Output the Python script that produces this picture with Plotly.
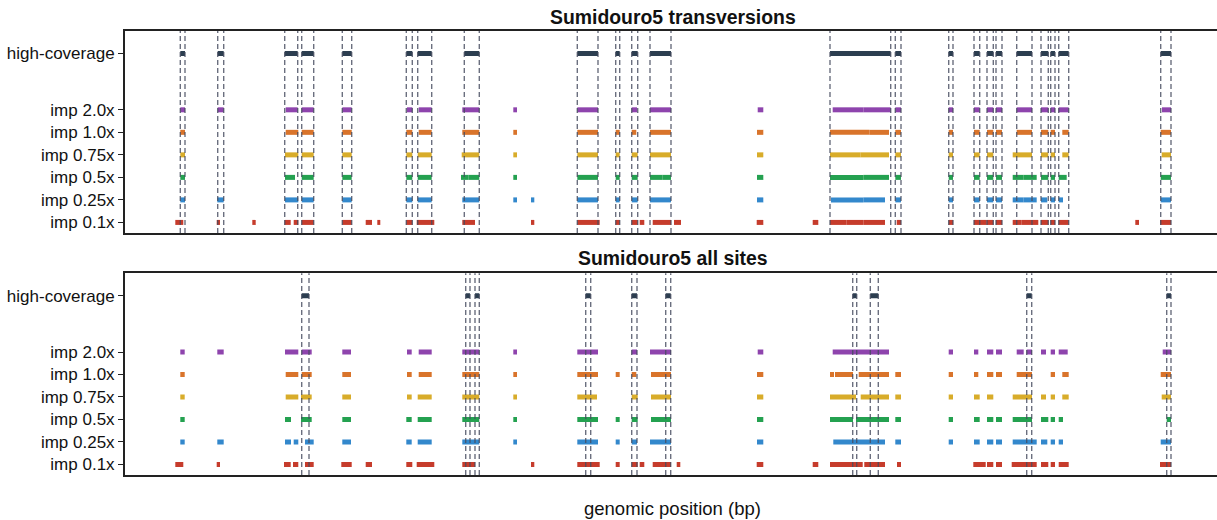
import plotly.graph_objects as go

# Genomic positions (arbitrary 100-kb units along the chromosome), (start, end) per segment
row_labels = ["imp 0.1x", "imp 0.25x", "imp 0.5x", "imp 0.75x", "imp 1.0x", "imp 2.0x", "high-coverage"]
row_pos = [0, 1, 2, 3, 4, 5, 7.5]

# ---------- Panel 1: transversions ----------
tv_hc = [(55.3, 60), (92.7, 98.7), (159.7, 172.7), (176.7, 188.7), (217.3, 226.7), (281.3, 287.3),
         (292.7, 306.7), (339.3, 354.3), (452.3, 473), (490.7, 494.7), (506.7, 512.7), (525, 546),
         (705, 765.7), (770.3, 776), (823.7, 828), (849, 854.7), (862, 868.3), (871, 877),
         (891.7, 907), (916, 923.3), (925.7, 930), (933.7, 943.7), (1035.7, 1046)]
tv_imp20 = [(55.3, 60), (92.7, 98.7), (160.7, 172.7), (176.7, 188.7), (217.3, 226.7), (282, 287.3),
            (293.7, 306.7), (337.3, 354.3), (388.3, 392), (452.3, 473), (506.7, 512), (525, 546),
            (632.7, 638.3), (707.7, 738.3), (738.3, 765.7), (770.3, 776), (823.7, 828), (849, 854.7),
            (862, 868.3), (871, 877), (891.7, 907), (916, 923.3), (925.7, 930), (933.7, 943.7), (1037, 1046)]
tv_imp10 = [(55.3, 60), (160.7, 173.3), (176.7, 188.7), (217.3, 226.7), (281.3, 287.3), (293.7, 306.7),
            (337.3, 354.3), (388.3, 392), (452.3, 473), (490.7, 494.7), (506.7, 511.3), (525, 546),
            (632, 638.3), (705, 744.3), (744.3, 764), (770.3, 776), (823.7, 828), (849, 854.7),
            (862, 868.3), (871, 877), (891.7, 907), (916, 923.3), (925.7, 930), (937.3, 943.7), (1035.7, 1046)]
tv_imp075 = [(55.3, 60), (160, 173.3), (176.7, 188.7), (217.3, 226.7), (281.3, 287.3), (292.7, 306.7),
             (336.7, 354.3), (388.3, 392), (452.3, 473), (490.7, 494.7), (506.7, 512.7), (525, 546),
             (632, 638.3), (705, 735.7), (735.7, 764), (770.3, 776), (823.7, 828), (849, 854.7),
             (862, 868.3), (887.7, 907), (916, 923.3), (925.7, 930), (937.3, 943.7), (1036.7, 1046)]
tv_imp05 = [(55.3, 60), (160, 170), (176.7, 188.7), (217.3, 226.7), (281.3, 287.3), (292.7, 306.7),
            (336, 343.3), (343.3, 354.3), (388.3, 392), (452.3, 473), (490.7, 494.7), (506.7, 512.7),
            (525, 537.7), (537.7, 546), (632, 638.3), (705, 738.3), (738.3, 764), (770.3, 776),
            (823.7, 828), (849, 854.7), (862, 868.3), (871, 877), (887.7, 898.3), (898.3, 911.7),
            (916, 923.3), (925.7, 930), (933.7, 941.7), (1035.7, 1046)]
tv_imp025 = [(55.3, 60), (92.3, 98.7), (160, 173.3), (176.7, 188.7), (217.3, 226.7), (281.3, 287.3),
             (292.7, 306.7), (337.3, 354.3), (388.3, 392), (406, 409.3), (452.3, 473), (490.7, 494.7),
             (506.7, 512.7), (525, 546), (632, 638.3), (706, 738.3), (738.3, 760), (770.3, 776),
             (823.7, 828), (849, 854.7), (862, 868.3), (871, 877), (887.7, 898.3), (898.3, 911.7),
             (916, 922.3), (925.7, 930), (933.7, 938), (1035.7, 1046)]
tv_imp01 = [(50.3, 58.3), (91.7, 95), (127.3, 130.7), (159.7, 165.7), (168.7, 173.3), (176.7, 188.7),
            (217.3, 226.7), (240.7, 247), (252.3, 255.3), (281.3, 287.3), (291.7, 309.3), (337.3, 350),
            (406, 409.3), (452.3, 474.7), (490.7, 494.7), (506.7, 512.7), (514.7, 519.3), (527.7, 546),
            (549, 556), (631.7, 638.3), (687.7, 693.3), (705, 721.7), (721.7, 738.3), (738.3, 760),
            (771.7, 776), (823.7, 828), (849, 861.7), (861.7, 868.3), (871, 877), (887.7, 896.3),
            (896.3, 913.3), (916, 923.3), (925.7, 930), (933.7, 943.7), (1010.3, 1014), (1035, 1046)]

# ---------- Panel 2: all sites ----------
all_hc = [(176.7, 184), (340.7, 345), (350, 354.3), (460.7, 465.7), (506.7, 512), (540.7, 545.7),
          (727.7, 731.7), (745.3, 753.3), (901.7, 906.7), (1041.7, 1046)]
all_imp20 = [(55.3, 59.7), (92.3, 98.7), (160, 173.3), (176.7, 186.7), (217.3, 226), (282, 286.7),
             (293.7, 306.7), (337.3, 354.3), (388.3, 392), (452.3, 473), (506.7, 512), (525, 546),
             (632.7, 638.3), (707.7, 764), (823.7, 828), (849, 853.3), (862, 868.3), (871, 877),
             (891.7, 898.7), (901.7, 907), (916, 921), (925.7, 930), (933.7, 942.7), (1037.7, 1046)]
all_imp10 = [(55.3, 59.7), (160.7, 173.3), (176.7, 186.7), (217.3, 226), (282, 286.7), (293.7, 306.7),
             (337.3, 354.3), (388.3, 392), (452.3, 473), (490.7, 494.7), (506.7, 511.3), (526, 546),
             (632, 638.3), (705, 709), (710, 728), (733.7, 764), (770.3, 776), (823.7, 828),
             (849, 853.3), (862, 868.3), (871, 877), (891.7, 907), (925.7, 930), (937.3, 943.7), (1035.7, 1046)]
all_imp075 = [(55.3, 59.7), (160.7, 173.3), (176, 186.7), (217.3, 226), (282, 286.7), (292.7, 306.7),
              (337.3, 354.3), (388.3, 392), (452.3, 472), (506.7, 512.7), (526, 546), (632, 638.3),
              (705, 731), (735.7, 764), (770.3, 776), (823.7, 828), (849, 854.7), (862, 868.3),
              (887.7, 907), (916, 921), (925.7, 930), (937.3, 943.7), (1036.7, 1046)]
all_imp05 = [(55.3, 59.7), (160, 166), (176, 186.7), (217.3, 226), (281.3, 286.7), (292.7, 306.7),
             (337.3, 354.3), (388.3, 392), (452.3, 473), (490.7, 494.7), (506.7, 512.7), (526, 546),
             (632, 638.3), (705, 728), (731, 764), (770.3, 776), (823.7, 828), (849, 854.7),
             (862, 868.3), (871, 877), (887.7, 907), (916, 923.3), (925.7, 930), (933.7, 938), (1041.7, 1046)]
all_imp025 = [(55.3, 59.7), (92.3, 98.7), (160, 166), (168.7, 173.3), (180, 188.7), (217.3, 226),
              (281.3, 286.7), (292.7, 306.7), (337.3, 354.3), (388.3, 392), (452.3, 473), (490.7, 494.7),
              (506.7, 512), (525, 546), (632, 638.3), (708.3, 760), (770.3, 776), (823.7, 828),
              (849, 854.7), (862, 868.3), (871, 877), (887.7, 911.7), (916, 922.3), (925.7, 930),
              (933.7, 938), (1035.7, 1046)]
all_imp01 = [(50.3, 58.3), (91.7, 95), (159, 165.7), (168, 173.3), (180, 188.7), (216.3, 226.7),
             (240.7, 247), (281.3, 287.3), (291.7, 309.3), (337.3, 350), (406, 409.3), (452.3, 474.7),
             (490.7, 494.7), (506.7, 512.7), (514.7, 519.3), (527.7, 546), (551.7, 555.3), (631.7, 638.3),
             (687.7, 693.3), (705, 737.7), (739.3, 760), (772, 776), (848.3, 860.7), (862, 868.3),
             (871, 877), (886.7, 911.7), (916, 923.3), (925.7, 930), (933.7, 943.7), (1035, 1046)]

row_colors = ["#c63c2c", "#3388cc", "#24a150", "#d8ac2a", "#d9742b", "#8e44ad", "#2c3e50"]

panels = [
    ("Sumidouro5 transversions", [tv_imp01, tv_imp025, tv_imp05, tv_imp075, tv_imp10, tv_imp20, tv_hc]),
    ("Sumidouro5 all sites", [all_imp01, all_imp025, all_imp05, all_imp075, all_imp10, all_imp20, all_hc]),
]

W, H = 1217, 520
fig = go.Figure()

for p, (title, rows) in enumerate(panels):
    xa = "x" if p == 0 else "x2"
    ya = "y" if p == 0 else "y2"
    for r, segs in enumerate(rows):
        xs, ys = [], []
        for s, e in segs:
            xs += [s, e, None]
            ys += [row_pos[r], row_pos[r], None]
        fig.add_trace(go.Scatter(x=xs, y=ys, mode="lines", xaxis=xa, yaxis=ya,
                                 line=dict(color=row_colors[r], width=5),
                                 hoverinfo="skip", showlegend=False))
    # dashed lines at high-coverage segment boundaries
    for s, e in rows[-1]:
        for b in (s, e):
            fig.add_shape(type="line", xref=xa, yref=ya + " domain", x0=b, x1=b, y0=0, y1=1,
                          line=dict(color="rgba(70,75,95,0.8)", width=1.4, dash="5px,3px"),
                          layer="above")

font_family = "Liberation Sans, Arial, Helvetica, sans-serif"
axis_common = dict(showgrid=False, zeroline=False, range=[0, 1092], showticklabels=False,
                   ticks="", showline=True, mirror=True, linecolor="#222", linewidth=2,
                   automargin=False)
yaxis_common = dict(showgrid=False, zeroline=False, range=[-0.47, 8.5], tickvals=row_pos,
                    ticktext=row_labels, ticks="outside", ticklen=5, tickwidth=1.2,
                    tickcolor="#222", showline=True, linecolor="#222", linewidth=2,
                    automargin=False,
                    tickfont=dict(size=17, color="#111", family=font_family))

fig.update_layout(
    width=W, height=H,
    margin=dict(l=125, r=0, t=0, b=0),
    plot_bgcolor="white", paper_bgcolor="white",
    font=dict(family=font_family, color="#111"),
    xaxis=dict(domain=[0, 1], anchor="y", **axis_common),
    xaxis2=dict(domain=[0, 1], anchor="y2", **axis_common),
    yaxis=dict(domain=[1 - 233 / H, 1 - 31 / H], anchor="x", **yaxis_common),
    yaxis2=dict(domain=[1 - 475 / H, 1 - 273.3 / H], anchor="x2", **yaxis_common),
    annotations=[
        dict(text="<b>Sumidouro5 transversions</b>", xref="paper", yref="paper", x=0.5018, y=1 - 17 / H,
             xanchor="center", yanchor="middle", showarrow=False, font=dict(size=19.4, color="#111")),
        dict(text="<b>Sumidouro5 all sites</b>", xref="paper", yref="paper", x=0.5018, y=1 - 258 / H,
             xanchor="center", yanchor="middle", showarrow=False, font=dict(size=19.4, color="#111")),
        dict(text="genomic position (bp)", xref="paper", yref="paper", x=0.5018, y=1 - 508 / H,
             xanchor="center", yanchor="middle", showarrow=False, font=dict(size=18.5, color="#111")),
    ],
)

fig.write_html("out.html", config={"displayModeBar": False},
               post_script="document.body.style.margin='0';document.body.style.overflow='hidden';")
